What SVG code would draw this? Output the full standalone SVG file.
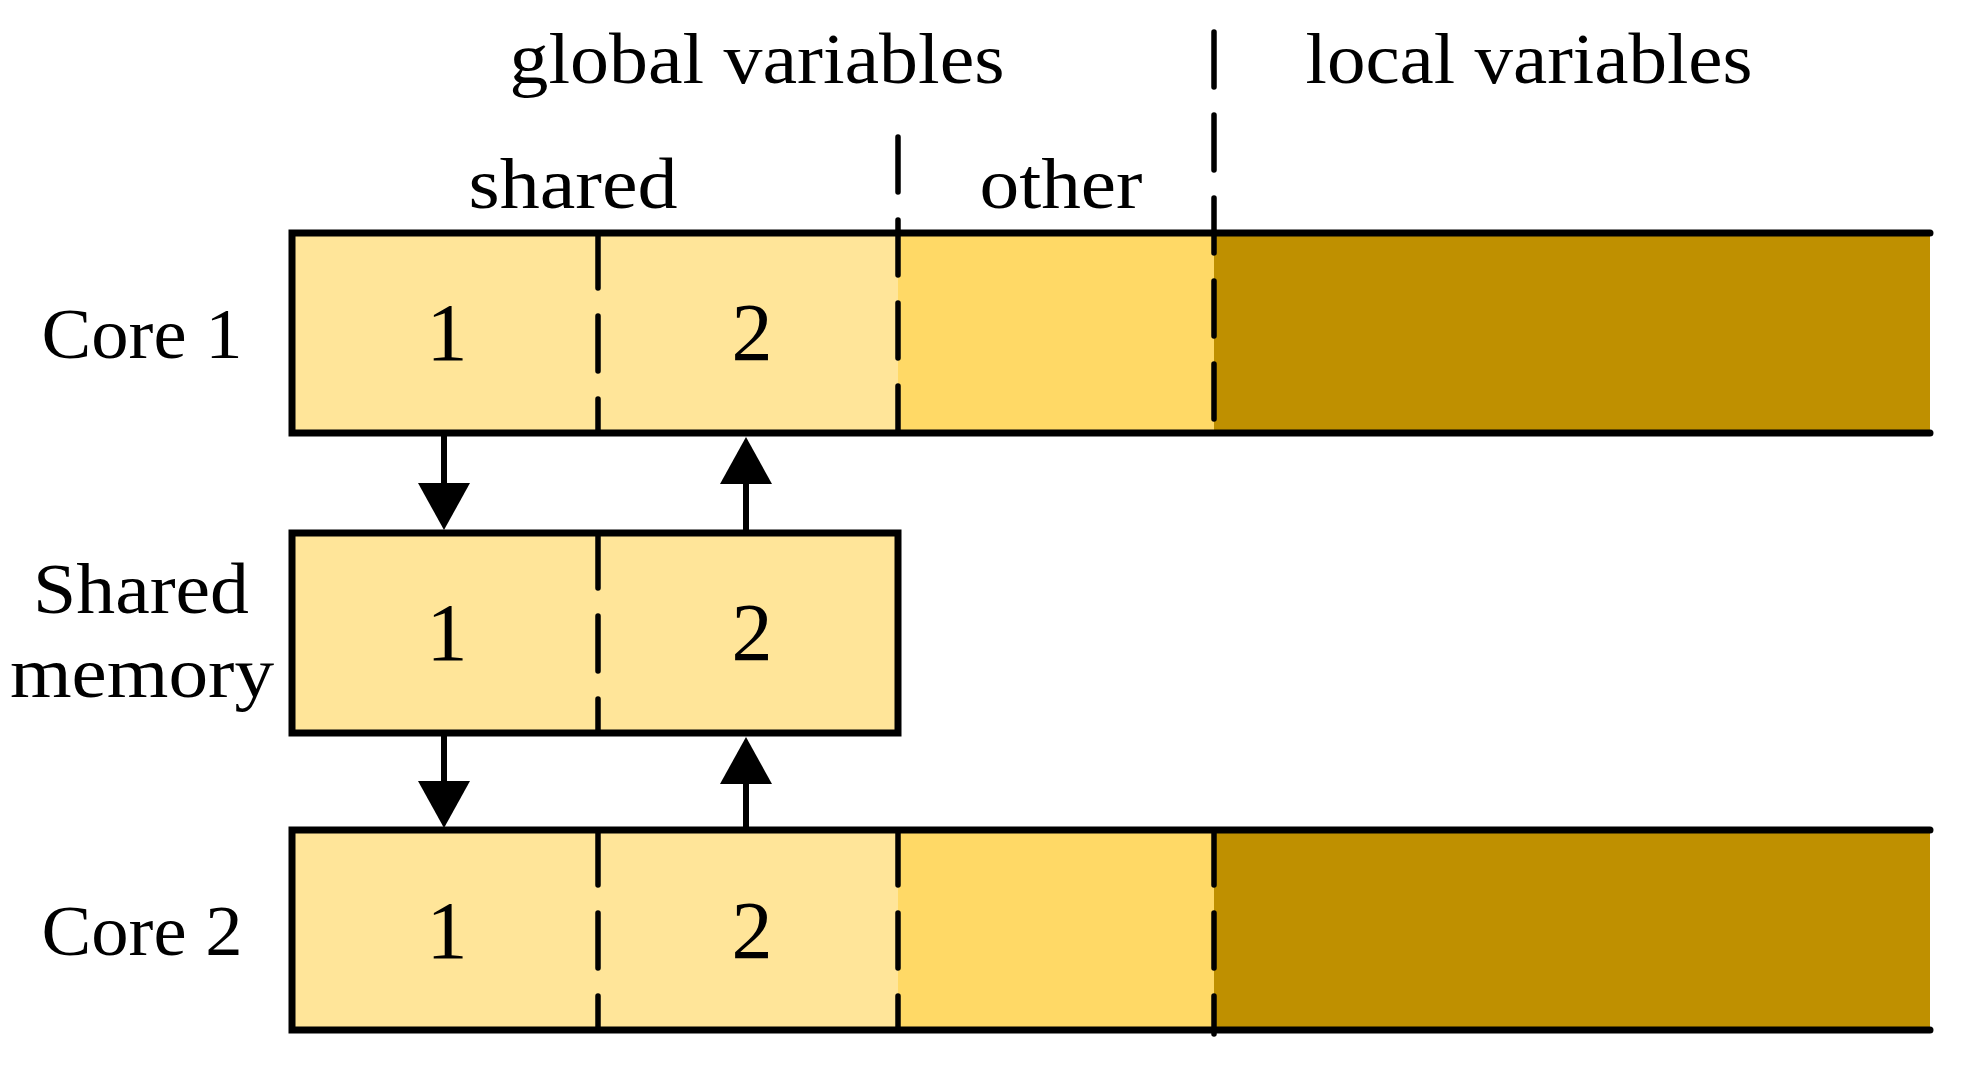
<svg xmlns="http://www.w3.org/2000/svg" width="1974" height="1080" viewBox="0 0 1974 1080">
<defs>
<style>
.t{font-family:"Liberation Serif","Times New Roman",serif;font-size:72px;fill:#000;text-anchor:middle}
.d{font-family:"Liberation Serif","Times New Roman",serif;font-size:82px;fill:#000;text-anchor:middle}
.ol{stroke:#000;stroke-width:7;fill:none;stroke-linecap:round;stroke-linejoin:miter}
.dash{stroke:#000;stroke-width:5.5;fill:none;stroke-dasharray:55 28;stroke-linecap:round}
.light{fill:#FFE599}
.mid{fill:#FFD966}
.dark{fill:#BF9000}
.arr{stroke:#000;stroke-width:6;fill:none}
</style>
<marker id="head" markerUnits="userSpaceOnUse" markerWidth="50" markerHeight="54" refX="0" refY="26" orient="auto" overflow="visible">
<path d="M0,0 L47,26 L0,52 Z" fill="#000"/>
</marker>
</defs>
<rect width="1974" height="1080" fill="#fff"/>

<g id="header-labels">
<text class="t" x="757" y="83" textLength="495" lengthAdjust="spacingAndGlyphs">global variables</text>
<text class="t" x="1529" y="83" textLength="447" lengthAdjust="spacingAndGlyphs">local variables</text>
<text class="t" x="573" y="208" textLength="209" lengthAdjust="spacingAndGlyphs">shared</text>
<text class="t" x="1061" y="208" textLength="163" lengthAdjust="spacingAndGlyphs">other</text>
</g>

<g id="core1">
<rect class="light" x="292" y="233" width="606" height="200"/>
<rect class="mid" x="898" y="233" width="316" height="200"/>
<rect class="dark" x="1214" y="233" width="716" height="200"/>
<path class="ol" d="M1930,233 H292 V433 H1930"/>
<line class="dash" x1="598" y1="233" x2="598" y2="433"/>
<text class="t" x="142" y="358" textLength="201" lengthAdjust="spacingAndGlyphs">Core 1</text>
<text class="d" x="447" y="360">1</text>
<text class="d" x="752" y="360">2</text>
</g>

<g id="shared-memory">
<rect class="light" x="292" y="533" width="606" height="200"/>
<rect class="ol" x="292" y="533" width="606" height="200"/>
<line class="dash" x1="598" y1="533" x2="598" y2="733"/>
<text class="t" x="141" y="613" textLength="216" lengthAdjust="spacingAndGlyphs">Shared</text>
<text class="t" x="142" y="697" textLength="264" lengthAdjust="spacingAndGlyphs">memory</text>
<text class="d" x="447" y="660">1</text>
<text class="d" x="752" y="660">2</text>
</g>

<g id="core2">
<rect class="light" x="292" y="830" width="606" height="200"/>
<rect class="mid" x="898" y="830" width="316" height="200"/>
<rect class="dark" x="1214" y="830" width="716" height="200"/>
<path class="ol" d="M1930,830 H292 V1030 H1930"/>
<line class="dash" x1="598" y1="830" x2="598" y2="1030"/>
<line class="dash" x1="898" y1="830" x2="898" y2="1030"/>
<line class="dash" x1="1214" y1="830" x2="1214" y2="1034"/>
<text class="t" x="142" y="955" textLength="201" lengthAdjust="spacingAndGlyphs">Core 2</text>
<text class="d" x="447" y="958">1</text>
<text class="d" x="752" y="958">2</text>
</g>

<g id="dividers">
<line class="dash" x1="898" y1="137" x2="898" y2="433"/>
<line class="dash" x1="1214" y1="32" x2="1214" y2="433"/>
</g>

<g id="connectors">
<line class="arr" x1="444" y1="436" x2="444" y2="483" marker-end="url(#head)"/>
<line class="arr" x1="746" y1="530" x2="746" y2="484" marker-end="url(#head)"/>
<line class="arr" x1="444" y1="736" x2="444" y2="781" marker-end="url(#head)"/>
<line class="arr" x1="746" y1="827" x2="746" y2="784" marker-end="url(#head)"/>
</g>
</svg>
